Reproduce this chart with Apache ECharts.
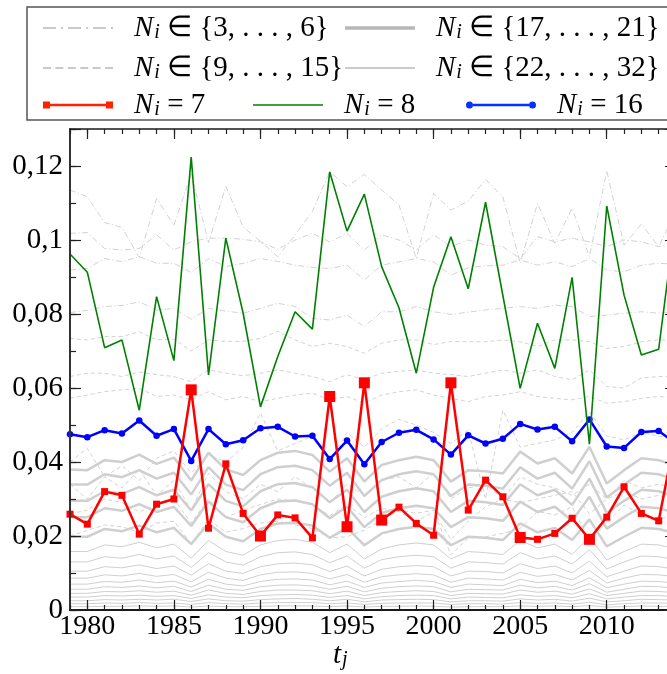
<!DOCTYPE html>
<html><head><meta charset="utf-8">
<script src="https://cdn.jsdelivr.net/npm/echarts@6/dist/echarts.min.js"></script>
<style>html,body{margin:0;padding:0;background:#fff}#c{width:667px;height:674px}</style>
</head><body><div id="c"></div>
<script>
// ---------------- DATA ----------------
const years = [1979,1980,1981,1982,1983,1984,1985,1986,1987,1988,
               1989,1990,1991,1992,1993,1994,1995,1996,1997,1998,
               1999,2000,2001,2002,2003,2004,2005,2006,2007,2008,
               2009,2010,2011,2012,2013,2014];

// N_i = 7 (red)
const n7 = [0.0259,0.0232,0.0320,0.0310,0.0205,0.0286,0.0300,0.0595,0.0221,0.0395,
            0.0261,0.0200,0.0257,0.0249,0.0195,0.0577,0.0225,0.0614,0.0243,0.0278,
            0.0234,0.0202,0.0614,0.0270,0.0351,0.0306,0.0196,0.0191,0.0207,0.0248,
            0.0191,0.0251,0.0333,0.0261,0.0241,0.0480];
const n7LargeMarkerYears = [1986,1990,1994,1995,1996,1997,2001,2005,2009];
// N_i = 8 (green)
const n8 = [0.0962,0.0913,0.0709,0.0730,0.0540,0.0847,0.0674,0.1224,0.0635,0.1005,
            0.0802,0.0549,0.0685,0.0806,0.0759,0.1184,0.1024,0.1124,0.0928,0.0817,
            0.0640,0.0872,0.1009,0.0868,0.1102,0.0850,0.0599,0.0775,0.0653,0.0899,
            0.0448,0.1092,0.0851,0.0689,0.0705,0.1070];
// N_i = 16 (blue)
const n16 = [0.0475,0.0467,0.0486,0.0477,0.0512,0.0471,0.0489,0.0403,0.0489,0.0448,
             0.0459,0.0491,0.0495,0.0469,0.0471,0.0408,0.0458,0.0394,0.0454,0.0479,
             0.0487,0.0461,0.0420,0.0472,0.0450,0.0463,0.0503,0.0488,0.0495,0.0456,
             0.0515,0.0442,0.0438,0.0481,0.0484,0.0450];

// N_i in {3,...,6} (dash-dot)
const n3to6 = [
 [0.1135,0.1117,0.1047,0.1034,0.0953,0.1112,0.1040,0.1178,0.0993,0.1145,
  0.1035,0.0996,0.0955,0.1014,0.1077,0.1185,0.1144,0.1177,0.1135,0.1095,
  0.0950,0.1126,0.1081,0.1105,0.1164,0.1117,0.0937,0.1099,0.0991,0.1086,
  0.0955,0.1187,0.0986,0.1043,0.0982,0.1080],
 [0.1018,0.1020,0.0977,0.0973,0.0977,0.1014,0.0973,0.0995,0.1005,0.1005,
  0.1002,0.0995,0.0975,0.1000,0.1018,0.0995,0.1018,0.0973,0.1014,0.1000,
  0.0973,0.1014,0.0982,0.1000,0.0986,0.0982,0.0950,0.1009,0.0995,0.1005,
  0.0995,0.0982,0.1000,0.0995,0.0982,0.0990],
 [0.0919,0.0923,0.0950,0.0941,0.0955,0.0937,0.0937,0.0912,0.0950,0.0928,
  0.0937,0.0950,0.0942,0.0932,0.0926,0.0923,0.0932,0.0892,0.0932,0.0941,
  0.0950,0.0941,0.0905,0.0925,0.0930,0.0932,0.0946,0.0932,0.0941,0.0928,
  0.0950,0.0919,0.0914,0.0932,0.0937,0.0935],
 [0.0804,0.0810,0.0820,0.0823,0.0833,0.0811,0.0815,0.0786,0.0815,0.0808,
  0.0802,0.0815,0.0829,0.0820,0.0788,0.0784,0.0797,0.0766,0.0806,0.0806,
  0.0820,0.0806,0.0799,0.0805,0.0811,0.0815,0.0820,0.0815,0.0824,0.0820,
  0.0793,0.0797,0.0802,0.0806,0.0802,0.0805]
];
// N_i in {9,...,15} (dashed)
const n9to15 = [
 [0.0734,0.0730,0.0739,0.0739,0.0752,0.0730,0.0732,0.0700,0.0730,0.0726,
  0.0726,0.0734,0.0753,0.0730,0.0712,0.0721,0.0712,0.0694,0.0721,0.0730,
  0.0730,0.0717,0.0726,0.0725,0.0725,0.0730,0.0725,0.0712,0.0730,0.0730,
  0.0725,0.0707,0.0712,0.0725,0.0730,0.0728],
 [0.0631,0.0640,0.0640,0.0631,0.0643,0.0636,0.0631,0.0617,0.0649,0.0640,
  0.0633,0.0640,0.0649,0.0640,0.0631,0.0617,0.0636,0.0622,0.0640,0.0645,
  0.0649,0.0640,0.0636,0.0631,0.0640,0.0649,0.0640,0.0649,0.0631,0.0622,
  0.0649,0.0604,0.0600,0.0627,0.0631,0.0630],
 [0.0572,0.0581,0.0590,0.0595,0.0599,0.0577,0.0581,0.0568,0.0590,0.0568,
  0.0577,0.0563,0.0572,0.0581,0.0586,0.0568,0.0577,0.0559,0.0581,0.0590,
  0.0595,0.0581,0.0572,0.0563,0.0577,0.0581,0.0590,0.0577,0.0572,0.0568,
  0.0577,0.0559,0.0563,0.0572,0.0577,0.0575],
 [0.0400,0.0437,0.0360,0.0390,0.0350,0.0410,0.0430,0.0370,0.0420,0.0400,
  0.0440,0.0532,0.0430,0.0450,0.0470,0.0400,0.0480,0.0440,0.0490,0.0515,
  0.0500,0.0480,0.0450,0.0486,0.0300,0.0540,0.0440,0.0450,0.0460,0.0480,
  0.0535,0.0470,0.0460,0.0480,0.0470,0.0460],
 [0.0340,0.0300,0.0360,0.0330,0.0380,0.0310,0.0350,0.0270,0.0370,0.0320,
  0.0300,0.0340,0.0320,0.0360,0.0330,0.0290,0.0340,0.0310,0.0350,0.0360,
  0.0330,0.0370,0.0300,0.0330,0.0340,0.0300,0.0360,0.0340,0.0330,0.0310,
  0.0340,0.0300,0.0350,0.0330,0.0340,0.0330],
 [0.0260,0.0270,0.0300,0.0290,0.0265,0.0285,0.0300,0.0235,0.0300,0.0250,
  0.0270,0.0285,0.0300,0.0295,0.0285,0.0255,0.0285,0.0250,0.0275,0.0266,
  0.0239,0.0266,0.0190,0.0240,0.0279,0.0300,0.0290,0.0300,0.0310,0.0320,
  0.0260,0.0300,0.0320,0.0300,0.0310,0.0300],
 [0.0200,0.0215,0.0230,0.0225,0.0210,0.0235,0.0240,0.0180,0.0245,0.0210,
  0.0220,0.0235,0.0240,0.0230,0.0220,0.0195,0.0198,0.0216,0.0243,0.0270,
  0.0261,0.0270,0.0149,0.0194,0.0198,0.0207,0.0221,0.0266,0.0257,0.0279,
  0.0189,0.0234,0.0284,0.0257,0.0248,0.0250]
];
// N_i in {17,...,21} (thick solid)
const n17to21 = [
 [0.0380,0.0378,0.0405,0.0400,0.0420,0.0395,0.0412,0.0350,0.0425,0.0380,
  0.0365,0.0405,0.0425,0.0430,0.0419,0.0374,0.0410,0.0347,0.0392,0.0405,
  0.0414,0.0405,0.0347,0.0378,0.0375,0.0369,0.0428,0.0396,0.0410,0.0369,
  0.0441,0.0342,0.0378,0.0410,0.0405,0.0390],
 [0.0339,0.0339,0.0367,0.0359,0.0378,0.0355,0.0371,0.0312,0.0386,0.0339,
  0.0324,0.0367,0.0386,0.0390,0.0378,0.0336,0.0371,0.0308,0.0351,0.0367,
  0.0375,0.0367,0.0308,0.0339,0.0336,0.0328,0.0386,0.0355,0.0371,0.0328,
  0.0402,0.0304,0.0339,0.0371,0.0367,0.0351],
 [0.0295,0.0295,0.0321,0.0314,0.0332,0.0310,0.0325,0.0269,0.0340,0.0295,
  0.0280,0.0321,0.0340,0.0343,0.0332,0.0291,0.0325,0.0265,0.0306,0.0321,
  0.0329,0.0321,0.0265,0.0295,0.0291,0.0284,0.0340,0.0310,0.0325,0.0284,
  0.0355,0.0262,0.0295,0.0325,0.0321,0.0306],
 [0.0251,0.0251,0.0275,0.0268,0.0286,0.0265,0.0279,0.0227,0.0293,0.0251,
  0.0237,0.0275,0.0293,0.0296,0.0286,0.0248,0.0279,0.0224,0.0262,0.0275,
  0.0282,0.0275,0.0224,0.0251,0.0248,0.0241,0.0293,0.0265,0.0279,0.0241,
  0.0306,0.0220,0.0251,0.0279,0.0275,0.0262],
 [0.0198,0.0198,0.0219,0.0213,0.0228,0.0210,0.0222,0.0178,0.0234,0.0198,
  0.0186,0.0219,0.0234,0.0236,0.0228,0.0195,0.0222,0.0175,0.0207,0.0219,
  0.0225,0.0219,0.0175,0.0198,0.0195,0.0189,0.0234,0.0210,0.0222,0.0189,
  0.0245,0.0172,0.0198,0.0222,0.0219,0.0207]
];
// N_i in {22,...,32} (thin solid)
const n22to32 = [
 [0.0158,0.0158,0.0176,0.0171,0.0183,0.0168,0.0178,0.0140,0.0188,0.0158,
  0.0148,0.0176,0.0188,0.0191,0.0183,0.0155,0.0178,0.0138,0.0165,0.0176,
  0.0181,0.0176,0.0138,0.0158,0.0155,0.0150,0.0188,0.0168,0.0178,0.0150,
  0.0198,0.0135,0.0158,0.0178,0.0176,0.0165],
 [0.0130,0.0130,0.0144,0.0140,0.0150,0.0138,0.0146,0.0115,0.0155,0.0130,
  0.0121,0.0144,0.0155,0.0157,0.0150,0.0128,0.0146,0.0113,0.0136,0.0144,
  0.0148,0.0144,0.0113,0.0130,0.0128,0.0124,0.0155,0.0138,0.0146,0.0124,
  0.0163,0.0111,0.0130,0.0146,0.0144,0.0136],
 [0.0105,0.0105,0.0117,0.0114,0.0122,0.0112,0.0119,0.0094,0.0125,0.0105,
  0.0099,0.0117,0.0125,0.0127,0.0122,0.0104,0.0119,0.0092,0.0110,0.0117,
  0.0120,0.0117,0.0092,0.0105,0.0104,0.0100,0.0125,0.0112,0.0119,0.0100,
  0.0132,0.0090,0.0105,0.0119,0.0117,0.0110],
 [0.0086,0.0086,0.0095,0.0092,0.0099,0.0091,0.0096,0.0076,0.0102,0.0086,
  0.0080,0.0095,0.0102,0.0103,0.0099,0.0084,0.0096,0.0075,0.0090,0.0095,
  0.0098,0.0095,0.0075,0.0086,0.0084,0.0081,0.0102,0.0091,0.0096,0.0081,
  0.0107,0.0073,0.0086,0.0096,0.0095,0.0090],
 [0.0070,0.0070,0.0077,0.0075,0.0081,0.0074,0.0078,0.0062,0.0083,0.0070,
  0.0065,0.0077,0.0083,0.0084,0.0081,0.0068,0.0078,0.0061,0.0073,0.0077,
  0.0080,0.0077,0.0061,0.0070,0.0068,0.0066,0.0083,0.0074,0.0078,0.0066,
  0.0087,0.0060,0.0070,0.0078,0.0077,0.0073],
 [0.0056,0.0056,0.0063,0.0061,0.0065,0.0060,0.0064,0.0050,0.0067,0.0056,
  0.0053,0.0063,0.0067,0.0068,0.0065,0.0056,0.0064,0.0049,0.0059,0.0063,
  0.0065,0.0063,0.0049,0.0056,0.0055,0.0054,0.0067,0.0060,0.0064,0.0054,
  0.0071,0.0048,0.0056,0.0064,0.0063,0.0059],
 [0.0045,0.0045,0.0050,0.0049,0.0052,0.0048,0.0051,0.0040,0.0054,0.0045,
  0.0042,0.0050,0.0054,0.0054,0.0052,0.0044,0.0051,0.0039,0.0047,0.0050,
  0.0052,0.0050,0.0039,0.0045,0.0044,0.0043,0.0054,0.0048,0.0051,0.0043,
  0.0057,0.0039,0.0045,0.0051,0.0050,0.0047],
 [0.0035,0.0035,0.0039,0.0038,0.0040,0.0037,0.0039,0.0031,0.0041,0.0035,
  0.0033,0.0039,0.0041,0.0042,0.0040,0.0034,0.0039,0.0030,0.0036,0.0039,
  0.0040,0.0039,0.0030,0.0035,0.0034,0.0033,0.0041,0.0037,0.0039,0.0033,
  0.0044,0.0030,0.0035,0.0039,0.0039,0.0036],
 [0.0025,0.0025,0.0028,0.0027,0.0029,0.0027,0.0029,0.0023,0.0030,0.0025,
  0.0024,0.0028,0.0030,0.0031,0.0029,0.0025,0.0029,0.0022,0.0027,0.0028,
  0.0029,0.0028,0.0022,0.0025,0.0025,0.0024,0.0030,0.0027,0.0029,0.0024,
  0.0032,0.0022,0.0025,0.0029,0.0028,0.0027],
 [0.0017,0.0017,0.0019,0.0018,0.0020,0.0018,0.0019,0.0015,0.0020,0.0017,
  0.0016,0.0019,0.0020,0.0020,0.0020,0.0017,0.0019,0.0015,0.0018,0.0019,
  0.0019,0.0019,0.0015,0.0017,0.0017,0.0016,0.0020,0.0018,0.0019,0.0016,
  0.0021,0.0014,0.0017,0.0019,0.0019,0.0018],
 [0.0009,0.0009,0.0010,0.0010,0.0011,0.0010,0.0011,0.0008,0.0011,0.0009,
  0.0009,0.0010,0.0011,0.0011,0.0011,0.0009,0.0011,0.0008,0.0010,0.0010,
  0.0011,0.0010,0.0008,0.0009,0.0009,0.0009,0.0011,0.0010,0.0011,0.0009,
  0.0012,0.0008,0.0009,0.0011,0.0010,0.0010]
];

// ---------------- CHART ----------------
const FONT = 'Liberation Serif';
const yearLabels = years.map(String);
const GRAY = '#cfcfcf';
const GRAY_DASH = '#d2d2d2';

function xAx(pos, major, labels, len, lineShow) {
  return {
    type: 'category', data: yearLabels, boundaryGap: false, position: pos,
    axisLine: { show: lineShow, onZero: false, lineStyle: { color: '#1a1a1a', width: pos === 'bottom' ? 2 : 1.5 } },
    axisTick: { show: true, inside: true, length: len, interval: major ? (i, v) => (+v) % 5 === 0 : 0,
                lineStyle: { color: '#222', width: 1.2 } },
    axisLabel: { show: labels, interval: (i, v) => (+v) % 5 === 0, color: '#000', fontFamily: FONT, fontSize: 28, margin: 3 },
    splitLine: { show: false }, z: 10
  };
}
function yAx(pos, interval, len, labels, lineShow) {
  return {
    type: 'value', min: 0, max: 0.13, interval: interval, position: pos,
    axisLine: { show: lineShow, onZero: false, lineStyle: { color: '#333', width: 2 } },
    axisTick: { show: true, inside: true, length: len, lineStyle: { color: '#222', width: 1.2 } },
    axisLabel: { show: labels, color: '#000', fontFamily: FONT, fontSize: 29, margin: 7,
      formatter: v => v === 0 ? '0' : (v > 0.125 ? '' : String(+v.toFixed(2)).replace('.', ',')) },
    splitLine: { show: false }, z: 10
  };
}

const series = [];
function addGroup(name, arr, lineType, width, color) {
  arr.forEach(d => series.push({
    type: 'line', name: name, data: d, symbol: 'none', showSymbol: false, silent: true,
    lineStyle: { color: color, width: width, type: lineType }, itemStyle: { color: color }, z: 2
  }));
}
addGroup('g2232', n22to32, 'solid', 1, GRAY);
addGroup('g1721', n17to21, 'solid', 2.5, GRAY);
addGroup('g915', n9to15, [4, 3], 1, GRAY_DASH);
addGroup('g36', n3to6, [6, 2.5, 1.2, 2.5], 1, GRAY_DASH);

series.push({ type: 'line', name: 'n16', data: n16, symbol: 'circle', symbolSize: 6.5,
  lineStyle: { color: '#0000ff', width: 2.5 }, itemStyle: { color: '#0000ff' }, z: 4 });
series.push({ type: 'line', name: 'n8', data: n8, symbol: 'none', showSymbol: false,
  lineStyle: { color: '#008000', width: 1.6 }, itemStyle: { color: '#008000' }, z: 5 });
series.push({ type: 'line', name: 'n7', data: n7, symbol: 'rect',
  symbolSize: (v, p) => n7LargeMarkerYears.indexOf(years[p.dataIndex]) >= 0 ? 11 : 7,
  lineStyle: { color: '#ff0000', width: 2.5 }, itemStyle: { color: '#ff0000' }, z: 6 });

const rich = {
  n: { fontFamily: FONT, fontStyle: 'italic', fontWeight: 'normal', fontSize: 29, lineHeight: 30, color: '#000' },
  s: { fontFamily: FONT, fontStyle: 'italic', fontWeight: 'normal', fontSize: 20, lineHeight: 19, verticalAlign: 'bottom', color: '#000', padding: [0, 0, 0, 1] },
  t: { fontFamily: FONT, fontStyle: 'normal', fontWeight: 'normal', fontSize: 29, lineHeight: 30, color: '#000' }
};
const legendText = {
  g36: '{n|N}{s|i}{t| ∈ {3, . . . , 6}{t|}}',
  g915: '{n|N}{s|i}{t| ∈ {9, . . . , 15}{t|}}',
  g1721: '{n|N}{s|i}{t| ∈ {17, . . . , 21}{t|}}',
  g2232: '{n|N}{s|i}{t| ∈ {22, . . . , 32}{t|}}',
  n7: '{n|N}{s|i}{t| = 7}', n8: '{n|N}{s|i}{t| = 8}', n16: '{n|N}{s|i}{t| = 16}'
};
const icons = {
  g36: 'path://M0,0H13V1.3H0Z M18,0H20V1.3H18Z M25,0H38V1.3H25Z M43,0H45V1.3H43Z M50,0H63V1.3H50Z M68,0H70V1.3H68Z',
  g915: 'path://M0,0H8V1.3H0Z M12.4,0H20.4V1.3H12.4Z M24.8,0H32.8V1.3H24.8Z M37.2,0H45.2V1.3H37.2Z M49.6,0H57.6V1.3H49.6Z M62,0H70V1.3H62Z',
  g1721: 'path://M0,0H70V3.4H0Z',
  g2232: 'path://M0,0H70V1.4H0Z',
  n8: 'path://M0,0H70V1.6H0Z',
  n7: 'path://M0,0H7V7H0Z M63,0H70V7H63Z M7,2.3H63V4.7H7Z',
  n16: 'path://M0,3.5A3.5,3.5 0 1,1 7,3.5A3.5,3.5 0 1,1 0,3.5Z M63,3.5A3.5,3.5 0 1,1 70,3.5A3.5,3.5 0 1,1 63,3.5Z M7,2.3H63V4.7H7Z'
};
const iconH = { g36: 1.3, g915: 1.3, g1721: 3.4, g2232: 1.4, n8: 1.6, n7: 7, n16: 7 };
const iconColor = { g36: '#b8b8b8', g915: '#b8b8b8', g1721: '#b8b8b8', g2232: '#b8b8b8', n8: '#008000', n7: '#ff2200', n16: '#0033ff' };
const legendPos = [
  ['g36', 43, 13], ['g1721', 345, 13],
  ['g915', 43, 53], ['g2232', 345, 53],
  ['n7', 43, 90], ['n8', 253, 90], ['n16', 466, 90]
];
const legends = legendPos.map(([name, left, top]) => ({
  left: left, top: top, padding: 0, itemWidth: 70, itemHeight: iconH[name], selectedMode: false,
  data: [{ name: name, icon: icons[name], itemStyle: { color: iconColor[name], borderWidth: 0 } }],
  formatter: n => legendText[n],
  textStyle: { fontFamily: FONT, fontSize: 29, lineHeight: 30, color: '#000', padding: [0, 0, 0, 16], rich: rich }
}));

const chart = echarts.init(document.getElementById('c'), null, { renderer: 'canvas' });
chart.setOption({
  animation: false,
  backgroundColor: '#fff',
  textStyle: { fontFamily: FONT },
  grid: { left: 70, top: 129, right: -9, bottom: 64, containLabel: false, outerBoundsMode: 'none' },
  xAxis: [xAx('bottom', true, true, 10, true), xAx('bottom', false, false, 5, false),
          xAx('top', true, false, 10, true), xAx('top', false, false, 5, false)],
  yAxis: [yAx('left', 0.02, 11, true, true), yAx('left', 0.01, 6, false, false),
          yAx('right', 0.02, 11, false, true), yAx('right', 0.01, 6, false, false)],
  legend: legends,
  title: { text: '{n|t}{s|j}', left: 333, top: 640, padding: 0,
           textStyle: { fontFamily: FONT, fontWeight: 'normal', fontSize: 29, lineHeight: 30, color: '#000', rich: rich } },
  graphic: [{ type: 'rect', shape: { x: 27, y: 7, width: 700, height: 113 },
              style: { fill: 'none', stroke: '#555', lineWidth: 1.5 }, silent: true, z: -1 }],
  series: series
});
</script></body></html>
